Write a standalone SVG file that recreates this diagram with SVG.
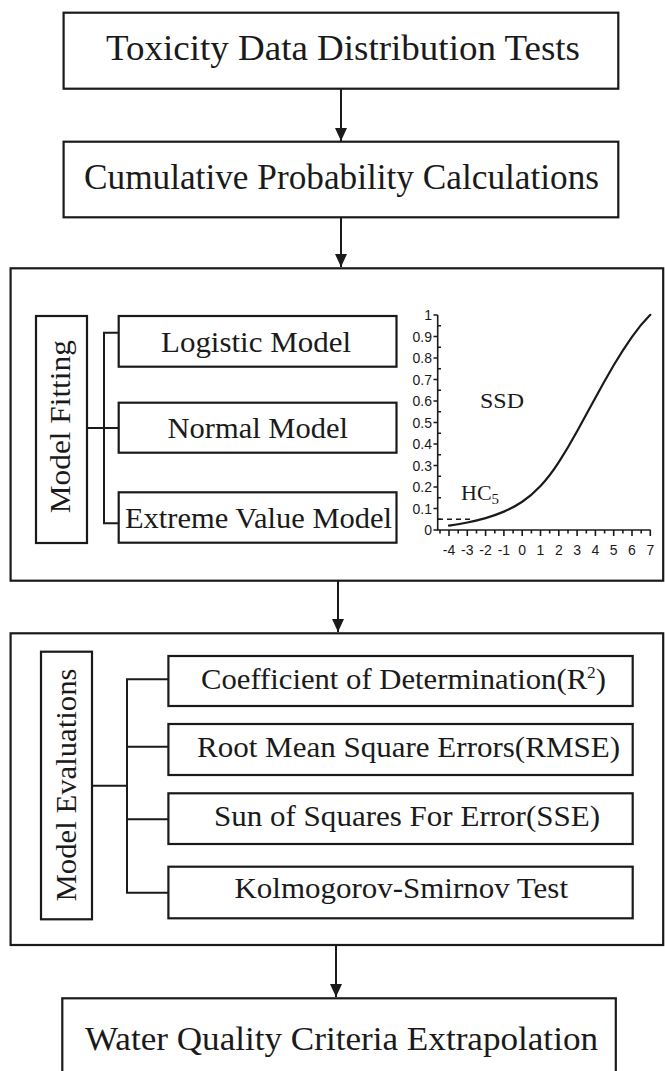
<svg xmlns="http://www.w3.org/2000/svg" width="665" height="1071" viewBox="0 0 665 1071">
<style>
.box{fill:#fff;stroke:#1a1a1a;stroke-width:2.2}
.t{font-family:"Liberation Serif","Times New Roman",serif;fill:#1a1a1a}
.ln{fill:none;stroke:#1a1a1a;stroke-width:2}
.ax{fill:none;stroke:#1a1a1a;stroke-width:1.6}
.n{font-family:"Liberation Sans",Arial,sans-serif;font-size:14px;fill:#1a1a1a}
</style>
<defs>
<marker id="ah" markerUnits="userSpaceOnUse" markerWidth="13" markerHeight="12" refX="13" refY="6" orient="auto" viewBox="0 0 13 12">
<path d="M0,0 L13,6 L0,12 Z" fill="#1a1a1a"/>
</marker>
</defs>
<rect width="665" height="1071" fill="#fff"/>

<g id="connectors">
<line class="ln" x1="341" y1="89" x2="341" y2="141" marker-end="url(#ah)"/>
<line class="ln" x1="341" y1="217" x2="341" y2="267" marker-end="url(#ah)"/>
<line class="ln" x1="338" y1="581" x2="338" y2="632" marker-end="url(#ah)"/>
<line class="ln" x1="336" y1="945" x2="336" y2="997" marker-end="url(#ah)"/>
</g>

<g id="toxicity">
<rect class="box" x="63.6" y="12.7" width="554.7" height="76"/>
<text class="t" x="106" y="60" font-size="36" textLength="474" lengthAdjust="spacingAndGlyphs">Toxicity  Data  Distribution  Tests</text>
</g>

<g id="cumulative">
<rect class="box" x="63.6" y="141.7" width="554.7" height="75.6"/>
<text class="t" x="84" y="189.3" font-size="36" textLength="515" lengthAdjust="spacingAndGlyphs">Cumulative Probability Calculations</text>
</g>

<g id="fitting-panel">
<rect class="box" x="10.6" y="268.3" width="652.6" height="312.4"/>
<g id="model-fitting">
<rect class="box" x="36" y="316" width="51" height="227"/>
<text class="t" transform="translate(70,426.7) rotate(-90)" text-anchor="middle" font-size="30" textLength="173" lengthAdjust="spacingAndGlyphs">Model Fitting</text>
</g>
<path class="ln" d="M87,428 H119 M119,332.7 H104 V523.3 H119"/>
<g id="logistic">
<rect class="box" x="118.7" y="316" width="277.8" height="50.7"/>
<text class="t" x="161" y="351.7" font-size="30" textLength="190" lengthAdjust="spacingAndGlyphs">Logistic Model</text>
</g>
<g id="normal">
<rect class="box" x="118.7" y="402.7" width="277.8" height="50"/>
<text class="t" x="167.5" y="438" font-size="30" textLength="180.5" lengthAdjust="spacingAndGlyphs">Normal Model</text>
</g>
<g id="extreme">
<rect class="box" x="118.7" y="492.3" width="277.8" height="50.4"/>
<text class="t" x="125" y="527.7" font-size="30" textLength="267" lengthAdjust="spacingAndGlyphs">Extreme Value Model</text>
</g>
<g id="ssd-chart">
<path class="ax" d="M437.7,315 V530 H650.7"/>
<path class="ax" d="M433.5,315 H437.7 M433.5,336.5 H437.7 M433.5,358 H437.7 M433.5,379.5 H437.7 M433.5,401 H437.7 M433.5,422.5 H437.7 M433.5,444 H437.7 M433.5,465.5 H437.7 M433.5,487 H437.7 M433.5,508.5 H437.7 M433.5,530 H437.7"/>
<path class="ax" stroke-width="1.2" d="M437.7,325.75 H441 M437.7,347.25 H441 M437.7,368.75 H441 M437.7,390.25 H441 M437.7,411.75 H441 M437.7,433.25 H441 M437.7,454.75 H441 M437.7,476.25 H441 M437.7,497.75 H441 M437.7,519.25 H441"/>
<path class="ax" d="M449,530 V536 M467.3,530 V536 M485.6,530 V536 M503.9,530 V536 M522.2,530 V536 M540.5,530 V536 M558.8,530 V536 M577.1,530 V536 M595.4,530 V536 M613.7,530 V536 M632,530 V536 M650.3,530 V536"/>
<path class="ax" stroke-width="1.2" d="M440,530 V533.5 M458.2,530 V533.5 M476.5,530 V533.5 M494.8,530 V533.5 M513.1,530 V533.5 M531.4,530 V533.5 M549.7,530 V533.5 M568,530 V533.5 M586.3,530 V533.5 M604.6,530 V533.5 M622.9,530 V533.5 M641.2,530 V533.5"/>
<g class="n" text-anchor="end">
<text x="432" y="320">1</text>
<text x="432" y="341.5">0.9</text>
<text x="432" y="363">0.8</text>
<text x="432" y="384.5">0.7</text>
<text x="432" y="406">0.6</text>
<text x="432" y="427.5">0.5</text>
<text x="432" y="449">0.4</text>
<text x="432" y="470.5">0.3</text>
<text x="432" y="492">0.2</text>
<text x="432" y="513.5">0.1</text>
<text x="432" y="535">0</text>
</g>
<g class="n" text-anchor="middle">
<text x="449" y="555">-4</text>
<text x="467.3" y="555">-3</text>
<text x="485.6" y="555">-2</text>
<text x="503.9" y="555">-1</text>
<text x="522.2" y="555">0</text>
<text x="540.5" y="555">1</text>
<text x="558.8" y="555">2</text>
<text x="577.1" y="555">3</text>
<text x="595.4" y="555">4</text>
<text x="613.7" y="555">5</text>
<text x="632" y="555">6</text>
<text x="650.3" y="555">7</text>
</g>
<line x1="438" y1="519.3" x2="470" y2="519.3" stroke="#1a1a1a" stroke-width="1.6" stroke-dasharray="5,4"/>
<path fill="none" stroke="#1a1a1a" stroke-width="2.2" stroke-linecap="round" d="M449,525.7 C455.1,524.77 461.2,523.69 467.3,522.47 C473.4,521.25 479.5,519.79 485.6,518.07 C491.7,516.35 497.8,514.2 503.9,511.62 C510,509.04 516.1,505.75 522.2,501.73 C528.3,497.71 534.4,492.48 540.5,486.03 C546.6,479.58 552.7,471.63 558.8,462.17 C564.9,452.71 571,442.42 577.1,431.31 C583.2,420.2 589.3,409.06 595.4,397.8 C601.5,386.54 607.6,375.7 613.7,365.3 C619.8,354.9 625.9,345.4 632,336.8 C638.1,328.2 644.2,320.89 650.3,314.8"/>
<text class="t" x="480" y="408" font-size="22" textLength="44" lengthAdjust="spacingAndGlyphs">SSD</text>
<text class="t" x="461" y="500" font-size="22">HC<tspan font-size="15" dy="4">5</tspan></text>
</g>
</g>

<g id="evaluation-panel">
<rect class="box" x="10.6" y="633.3" width="652.6" height="311.7"/>
<g id="model-evaluations">
<rect class="box" x="41" y="651.7" width="51" height="267.6"/>
<text class="t" transform="translate(76,785) rotate(-90)" text-anchor="middle" font-size="30" textLength="233" lengthAdjust="spacingAndGlyphs">Model Evaluations</text>
</g>
<path class="ln" d="M92,785.7 H127 M168,679.3 H127 V892.7 H168 M127,746.7 H168 M127,819.3 H168"/>
<g id="r2">
<rect class="box" x="168.4" y="656" width="464.3" height="50"/>
<text class="t" x="201" y="689.3" font-size="30" textLength="405" lengthAdjust="spacingAndGlyphs">Coefficient of Determination(R<tspan font-size="17" dy="-11">2</tspan><tspan dy="11">)</tspan></text>
</g>
<g id="rmse">
<rect class="box" x="168.4" y="724" width="464.3" height="51"/>
<text class="t" x="197" y="757.3" font-size="30" textLength="423" lengthAdjust="spacingAndGlyphs">Root Mean Square Errors(RMSE)</text>
</g>
<g id="sse">
<rect class="box" x="168.4" y="793.3" width="464.3" height="50.7"/>
<text class="t" x="214" y="825.7" font-size="30" textLength="386" lengthAdjust="spacingAndGlyphs">Sun of Squares For Error(SSE)</text>
</g>
<g id="ks">
<rect class="box" x="168.4" y="866.7" width="464.3" height="51.6"/>
<text class="t" x="234.5" y="898.3" font-size="30" textLength="333.5" lengthAdjust="spacingAndGlyphs">Kolmogorov-Smirnov Test</text>
</g>
</g>

<g id="water-quality">
<rect class="box" x="62.3" y="998.3" width="553.5" height="90"/>
<text class="t" x="85" y="1050" font-size="34" textLength="513" lengthAdjust="spacingAndGlyphs">Water Quality Criteria Extrapolation</text>
</g>
</svg>
